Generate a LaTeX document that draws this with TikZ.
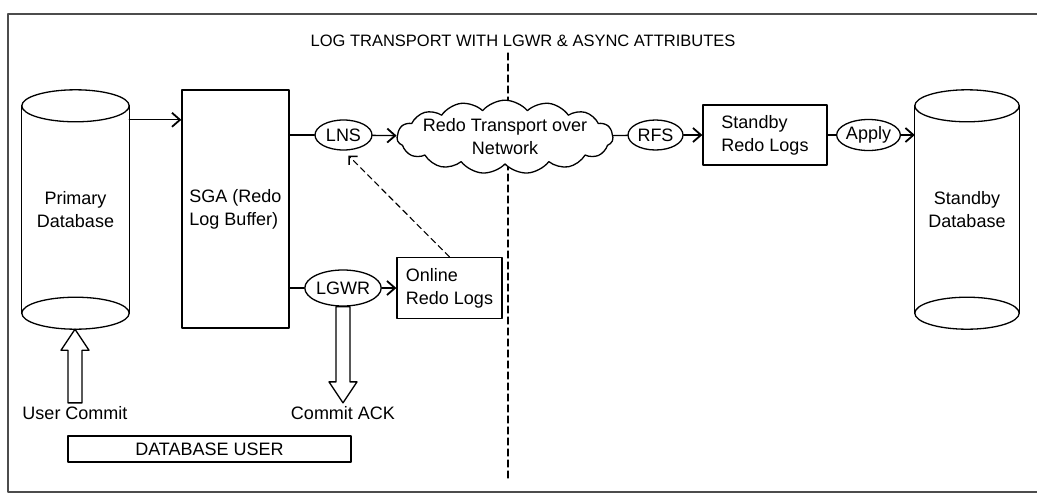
\documentclass[tikz,border=0pt]{standalone}
\usepackage{fontspec}
\setmainfont{Liberation Sans}
\usetikzlibrary{arrows.meta, positioning, calc, shapes.geometric, shapes.symbols}

% hollow block arrow, vertical, from #1 (base) to #2 (tip)
\newcommand{\hollowarrow}[2]{%
	\draw[blockarrow] let \p1=(#1), \p2=(#2), \n1={ifthenelse(\y2>\y1,1,-1)} in
	(\x1-7pt,\y1) -- (\x1-7pt,\y2-\n1*21pt) -- (\x1-14pt,\y2-\n1*21pt) -- (\x1,\y2)
	-- (\x1+14pt,\y2-\n1*21pt) -- (\x1+7pt,\y2-\n1*21pt) -- (\x1+7pt,\y1) -- cycle;}

\begin{document}
\begin{tikzpicture}[x=1pt, y=-1pt, line cap=round, line join=round]
	
	%======================
	% PARAMETERS
	%======================
	\def\lane{135}    % row of the transport chain
	\def\lgrow{288}   % row of LGWR
	\def\dbr{16}      % y radius of the database ellipses
	
	%======================
	% STYLES
	%======================
	\tikzset{
		every node/.style={font=\fontsize{18}{23}\selectfont},
		frame/.style={line width=2pt, black!70},
		box/.style={draw, line width=1.3pt, rectangle, align=left, inner sep=0pt},
		proc/.style={draw, line width=1.3pt, ellipse, inner sep=0pt},
		dbbody/.style={rectangle, align=center, inner sep=0pt},
		netcloud/.style={draw, line width=1.3pt, cloud, cloud puffs=15, cloud puff arc=100, aspect=4, fill=white, align=center, inner sep=-6pt},
		link/.style={line width=1.3pt},
		flow/.style={line width=1.3pt, -{Straight Barb[length=8pt,width=14pt,line width=1.8pt]}},
		dashflow/.style={line width=1.1pt, dash pattern=on 6pt off 4pt, -{Straight Barb[length=6pt,width=12pt,line width=1.4pt]}},
		divider/.style={line width=1.1pt, dash pattern=on 7pt off 4pt},
		blockarrow/.style={line width=1.3pt, fill=white}
	}
	
	\useasboundingbox (0,0) rectangle (1037,493);
	
	% frame and divider
	\draw[frame] (1045,14) -- (8,14) -- (8,492) -- (1045,492);
	\draw[divider] (508,53) -- (508,478);
	
	\node[font=\fontsize{16.5}{20}\selectfont] (title) at (523,41) {LOG TRANSPORT WITH LGWR \& ASYNC ATTRIBUTES};
	
	%======================
	% PRIMARY SIDE
	%======================
	\node[dbbody, minimum width=107, minimum height=207] (pdb) at (75.5,209.5) {Primary\\Database};
	\node[box, minimum width=107, minimum height=238] (sga) at (235.5,209) {SGA (Redo\\Log Buffer)};
	\node[proc, minimum width=57, minimum height=30] (lns) at (343.5,\lane) {LNS};
	\node[proc, minimum width=72, minimum height=36] (lgwr) at (343,\lgrow) {LGWR};
	\node[box, minimum width=105, minimum height=61] (online) at (449.5,\lgrow) {Online\\Redo Logs};
	\node (ucommit) at (75,413) {User Commit};
	\node (cack) at (343,413) {Commit ACK};
	\node[box, align=center, minimum width=283, minimum height=26] (dbuser) at (209.5,449) {DATABASE USER};
	
	%======================
	% NETWORK + STANDBY SIDE
	%======================
	\node[netcloud] (net) at (505,\lane+2) {Redo Transport over\\Network};
	\node[proc, minimum width=55, minimum height=30] (rfs) at (655.5,\lane) {RFS};
	\node[box, minimum width=124, minimum height=60] (srl) at (765,\lane) {Standby\\Redo Logs};
	\node[proc, minimum width=57, minimum height=31] (apply) at (868.5,\lane) {Apply};
	\node[dbbody, minimum width=104, minimum height=207] (sdb) at (967,209.5) {Standby\\Database};
	
	% cylinders
	\foreach \db in {pdb, sdb} {
		\draw[link] (\db.north west) -- (\db.south west) (\db.north east) -- (\db.south east);
		\draw[link] let \p1=($(\db.east)-(\db.west)$) in
		(\db.north) ellipse [x radius={0.5*\x1}, y radius=\dbr pt]
		(\db.south) ellipse [x radius={0.5*\x1}, y radius=\dbr pt];
	}
	
	%======================
	% CONNECTORS
	%======================
	\coordinate (pdbout) at ([yshift=-14pt]pdb.north east);
	\draw[flow] (pdbout) -- (pdbout -| sga.west);
	\draw[link] (lns.west -| sga.east) -- (lns);
	\draw[flow] (lns) -- (net);
	\draw[link] (net) -- (rfs);
	\draw[flow] (rfs) -- (srl);
	\draw[link] (srl) -- (apply);
	\draw[flow] (apply) -- (apply -| sdb.west);
	\draw[link] (lgwr.west -| sga.east) -- (lgwr);
	\draw[flow] (lgwr) -- (online);
	\draw[dashflow, shorten >=7pt] (online.north) -- (lns.south);
	
	% block arrows
	\coordinate (pdbbase) at ([yshift=-\dbr pt]pdb.south);
	\hollowarrow{ucommit.north}{pdbbase}
	\hollowarrow{lgwr.south}{cack.north}
	
\end{tikzpicture}
\end{document}
